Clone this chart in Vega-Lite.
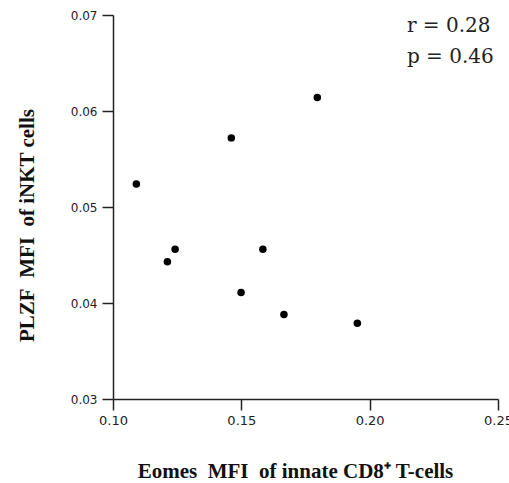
{
  "$schema": "https://vega.github.io/schema/vega-lite/v6.json",
  "width": 385,
  "height": 384,
  "autosize": "none",
  "padding": {"left": 113, "top": 15, "right": 11, "bottom": 84},
  "background": "white",
  "config": {
    "view": {"stroke": null},
    "axis": {
      "grid": false,
      "domainColor": "#222",
      "domainWidth": 1.5,
      "tickColor": "#222",
      "tickWidth": 1.5,
      "tickSize": 11,
      "labelFont": "DejaVu Sans",
      "labelColor": "#222",
      "labelPadding": 4,
      "titleFont": "Liberation Serif",
      "titleFontWeight": "bold",
      "titleFontSize": 21,
      "titleColor": "#111",
      "titleBaseline": "alphabetic"
    }
  },
  "layer": [
    {
      "data": {
        "values": [
          {"eomes": 0.1091, "plzf": 0.0524},
          {"eomes": 0.1212, "plzf": 0.0443},
          {"eomes": 0.1242, "plzf": 0.0456},
          {"eomes": 0.1461, "plzf": 0.0572},
          {"eomes": 0.1499, "plzf": 0.0411},
          {"eomes": 0.1584, "plzf": 0.0456},
          {"eomes": 0.1666, "plzf": 0.0388},
          {"eomes": 0.1796, "plzf": 0.0614},
          {"eomes": 0.1952, "plzf": 0.0379}
        ]
      },
      "mark": {"type": "circle", "size": 56, "color": "#000", "opacity": 1},
      "encoding": {
        "x": {
          "field": "eomes",
          "type": "quantitative",
          "scale": {"domain": [0.1, 0.25], "nice": false, "zero": false},
          "axis": {
            "values": [0.1, 0.15, 0.2, 0.25],
            "format": ".2f",
            "labelFontSize": 13,
            "labelFlush": false,
            "title": "Eomes\u00a0\u00a0MFI\u00a0\u00a0of innate CD8⁺ T-cells",
            "titleX": 182,
            "titleY": 78
          }
        },
        "y": {
          "field": "plzf",
          "type": "quantitative",
          "scale": {"domain": [0.03, 0.07], "nice": false, "zero": false},
          "axis": {
            "values": [0.03, 0.04, 0.05, 0.06, 0.07],
            "format": ".2f",
            "labelFontSize": 12,
            "labelPadding": 5,
            "labelFlush": false,
            "title": "PLZF\u00a0\u00a0MFI\u00a0\u00a0of iNKT cells",
            "titleX": -80,
            "titleY": 210
          }
        }
      }
    },
    {
      "data": {"values": [{"r": "r = 0.28", "p": "p = 0.46"}]},
      "mark": {
        "type": "text",
        "text": ["r = 0.28", "p = 0.46"],
        "font": "DejaVu Serif",
        "fontSize": 20,
        "lineHeight": 31,
        "align": "left",
        "baseline": "alphabetic",
        "color": "#222"
      },
      "encoding": {
        "x": {"datum": 0.2145, "type": "quantitative"},
        "y": {"datum": 0.06823, "type": "quantitative"}
      }
    }
  ]
}
